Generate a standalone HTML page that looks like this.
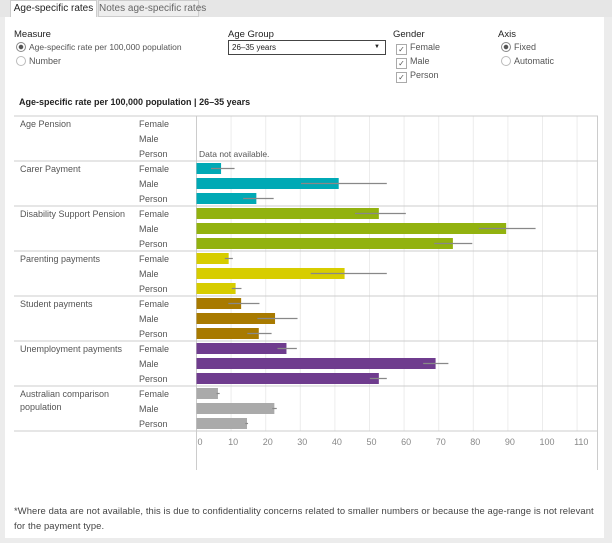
<!DOCTYPE html>
<html><head><meta charset="utf-8"><style>
body{margin:0;width:612px;height:543px;background:#ececec;font-family:"Liberation Sans",sans-serif;position:relative;overflow:hidden}
.abs{position:absolute;white-space:nowrap}
.t{font-size:9px;color:#555}
.h{font-size:9.5px;color:#222}
</style></head><body>
<div class="abs" style="left:0;top:0;width:612px;height:17px;background:#e6e6e6"></div>
<div class="abs h" style="left:10px;top:0;width:87px;height:17px;background:#fff;border:1px solid #ccc;border-bottom:none;box-sizing:border-box;text-align:center;line-height:16px;font-size:10px">Age-specific rates</div>
<div class="abs" style="left:98px;top:0;width:101px;height:17px;background:#eee;border:1px solid #ccc;box-sizing:border-box;text-align:center;line-height:16px;font-size:10px;color:#666">Notes age-specific rates</div>
<div class="abs" style="left:5px;top:17px;width:599px;height:521px;background:#fff"></div>

<div class="abs h" style="left:14px;top:29px">Measure</div>
<div class="abs t" style="left:16px;top:42px;font-size:8.5px"><span style="display:inline-block;width:8px;height:8px;border:1px solid #888;border-radius:50%;vertical-align:-2px;margin-right:3px;background:radial-gradient(#555 35%,#fff 45%)"></span>Age-specific rate per 100,000 population</div>
<div class="abs t" style="left:16px;top:56px"><span style="display:inline-block;width:8px;height:8px;border:1px solid #bbb;border-radius:50%;vertical-align:-2px;margin-right:3px"></span>Number</div>

<div class="abs h" style="left:228px;top:29px">Age Group</div>
<div class="abs" style="left:228px;top:40px;width:158px;height:15px;border:1px solid #444;box-sizing:border-box;font-size:8px;line-height:13px;padding-left:3px;color:#222">26–35 years<span style="position:absolute;right:5px;top:0;font-size:6px">▼</span></div>

<div class="abs h" style="left:393px;top:29px">Gender</div>
<div class="abs t" style="left:396px;top:42px"><span style="display:inline-block;width:9px;height:9px;border:1px solid #aaa;font-size:8px;line-height:9px;text-align:center;margin-right:3px;vertical-align:-2px">✓</span>Female</div>
<div class="abs t" style="left:396px;top:56px"><span style="display:inline-block;width:9px;height:9px;border:1px solid #aaa;font-size:8px;line-height:9px;text-align:center;margin-right:3px;vertical-align:-2px">✓</span>Male</div>
<div class="abs t" style="left:396px;top:70px"><span style="display:inline-block;width:9px;height:9px;border:1px solid #aaa;font-size:8px;line-height:9px;text-align:center;margin-right:3px;vertical-align:-2px">✓</span>Person</div>

<div class="abs h" style="left:498px;top:29px">Axis</div>
<div class="abs t" style="left:501px;top:42px"><span style="display:inline-block;width:8px;height:8px;border:1px solid #888;border-radius:50%;vertical-align:-2px;margin-right:3px;background:radial-gradient(#555 35%,#fff 45%)"></span>Fixed</div>
<div class="abs t" style="left:501px;top:56px"><span style="display:inline-block;width:8px;height:8px;border:1px solid #bbb;border-radius:50%;vertical-align:-2px;margin-right:3px"></span>Automatic</div>

<div class="abs" style="left:19px;top:97px;font-size:9px;color:#222;font-weight:bold">Age-specific rate per 100,000 population | 26–35 years</div>

<svg class="abs" style="left:0;top:0" width="612" height="543" id="chart"></svg>

<div class="abs t" style="left:14px;top:503px;font-size:9.4px;line-height:15px;color:#444;letter-spacing:0.1px">*Where data are not available, this is due to confidentiality concerns related to smaller numbers or because the age-range is not relevant<br>for the payment type.</div>

<script>
const categories=["Age Pension","Carer Payment","Disability Support Pension","Parenting payments","Student payments","Unemployment payments","Australian comparison population"];
const genders=["Female","Male","Person"];
const colors=["#aaa","#00a9b5","#92b20f","#d7cd00","#a87a00","#6f3c8e","#aaaaaa"];
const values=[[null,null,null],[7.1,41.1,17.3],[52.7,89.5,74.1],[9.3,42.8,11.3],[12.9,22.7,18],[26,69.1,52.7],[6.2,22.5,14.6]];
const errLow=[[null,null,null],[4.2,30.2,13.5],[45.8,81.6,68.7],[8.2,33,10.2],[9.2,17.6,14.7],[23.4,65.5,50.1],[5.8,21.9,14.1]];
const errHigh=[[null,null,null],[11,55,22.3],[60.5,98,79.7],[10.5,55,13],[18.2,29.2,21.7],[29,72.8,55],[6.7,23.2,14.9]];
const ticks=[0,10,20,30,40,50,60,70,80,90,100,110];
const svg=document.getElementById('chart');
const NS='http://www.w3.org/2000/svg';
const x0=196.5,pxPer=3.46;
const xs=v=>x0+v*pxPer;
const top0=116,grpH=45,rowH=15;
function mk(t,a){const e=document.createElementNS(NS,t);for(const k in a)e.setAttribute(k,a[k]);svg.appendChild(e);return e;}
ticks.forEach(t=>{
 const g=mk('line',{x1:xs(t),x2:xs(t),y1:top0,y2:431,stroke:'#ececec','stroke-width':1});
 
 
 const l=mk('text',{x:xs(t)+(t===0?1:-3),y:445,'font-size':9,fill:'#888','font-family':'Liberation Sans, sans-serif'});
 l.textContent=t;
 
 
});
let ln=mk('line',{x1:14,x2:598,y1:top0,y2:top0,stroke:'#ccc'});

ln=mk('line',{x1:x0,x2:x0,y1:top0,y2:470,stroke:'#ccc'});

ln=mk('line',{x1:597.5,x2:597.5,y1:top0,y2:470,stroke:'#ccc'});

categories.forEach((c,i)=>{
 const gy=top0+i*grpH;
 const sep=mk('line',{x1:14,x2:598,y1:gy+grpH,y2:gy+grpH,stroke:'#ccc'});
 
 
 const words=c==="Australian comparison population"?["Australian comparison","population"]:[c];
 words.forEach((w,k)=>{
  const t=mk('text',{x:20,y:gy+11+k*13,'font-size':9,fill:'#555','font-family':'Liberation Sans, sans-serif'});
  t.textContent=w;
  
  
 });
 genders.forEach((g,j)=>{
  const cy=gy+7.5+j*rowH;
  const t=mk('text',{x:139,y:cy+3.5,'font-size':9,fill:'#555','font-family':'Liberation Sans, sans-serif'});
  t.textContent=g;
  
  
  const v=values[i][j];
  if(v!=null){
   const b=mk('rect',{x:x0,y:cy-5.5,width:xs(v)-x0,height:11,fill:colors[i]});
   
   
   const e=mk('line',{x1:xs(errLow[i][j]),x2:xs(errHigh[i][j]),y1:cy,y2:cy,stroke:'#888','stroke-width':1.2});
   
   
  }
 });
});
const na=mk('text',{x:199,y:157,'font-size':8.5,fill:'#555','font-family':'Liberation Sans, sans-serif'});
na.textContent='Data not available.';


</script>
</body></html>
